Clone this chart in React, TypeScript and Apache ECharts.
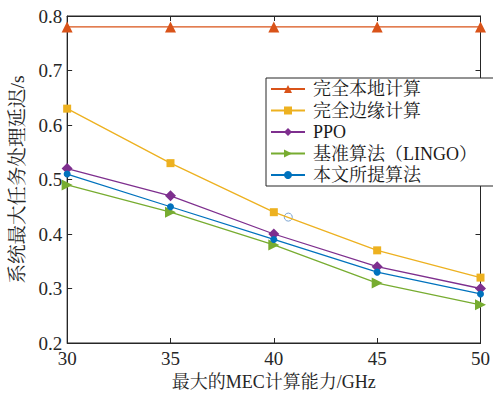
import React, { useEffect, useRef } from "react";
import * as echarts from "echarts";

const xValues = [30, 35, 40, 45, 50];
const localCompute = [0.78, 0.78, 0.78, 0.78, 0.78];
const edgeCompute = [0.63, 0.53, 0.44, 0.37, 0.32];
const ppo = [0.52, 0.47, 0.40, 0.34, 0.30];
const lingo = [0.49, 0.44, 0.38, 0.31, 0.27];
const proposed = [0.51, 0.45, 0.39, 0.33, 0.29];
const strayPoint = [[40.7, 0.431]];

const seriesNames = ["完全本地计算", "完全边缘计算", "PPO", "基准算法（LINGO）", "本文所提算法"];

const FONT = "'Liberation Serif', 'Times New Roman', 'Noto Serif CJK SC', 'Noto Sans CJK SC', serif";

export default function App() {
  const ref = useRef<HTMLDivElement>(null);
  useEffect(() => {
    if (!ref.current) return;
    const chart = echarts.init(ref.current, null, { renderer: "svg" });
    const mk = (vals: number[]) => vals.map((v, i) => [xValues[i], v]);
    const lineSeries = (name: string, vals: number[], color: string, symbol: string, size: number, rotate = 0) => ({
      name,
      type: "line",
      data: mk(vals),
      symbol,
      symbolSize: size,
      symbolRotate: rotate,
      showSymbol: true,
      lineStyle: { color, width: 1.3 },
      itemStyle: { color },
      emphasis: { disabled: true },
    });
    const axisLineStyle = { color: "#262626", width: 1 };
    chart.setOption({
      animation: false,
      backgroundColor: "#fff",
      grid: { left: 66, right: 9, top: 16, bottom: 54, show: true, borderColor: "#262626", borderWidth: 1 },
      legend: {
        data: seriesNames,
        orient: "vertical",
        left: 266,
        top: 78,
        itemWidth: 34,
        itemHeight: 10,
        itemGap: 3.5,
        padding: [2, 22, 2, 4],
        backgroundColor: "#fff",
        borderColor: "#262626",
        borderWidth: 1,
        borderRadius: 0,
        textStyle: { fontFamily: FONT, fontSize: 18, lineHeight: 18, color: "#1a1a1a", padding: [0, 0, 0, 3] },
      },
      xAxis: [
        {
          type: "value",
          min: 30,
          max: 50,
          interval: 5,
          name: "最大的MEC计算能力/GHz",
          nameLocation: "middle",
          nameGap: 30,
          nameTextStyle: { fontFamily: FONT, fontSize: 18, color: "#262626" },
          axisLine: { show: true, lineStyle: axisLineStyle },
          axisTick: { show: true, inside: true, length: 5, lineStyle: axisLineStyle },
          axisLabel: { fontFamily: FONT, fontSize: 19, color: "#262626", margin: 6 },
          splitLine: { show: false },
        },
        {
          type: "value",
          position: "top",
          min: 30,
          max: 50,
          interval: 5,
          axisLine: { show: true, lineStyle: axisLineStyle },
          axisTick: { show: true, inside: true, length: 5, lineStyle: axisLineStyle },
          axisLabel: { show: false },
          splitLine: { show: false },
        },
      ],
      yAxis: [
        {
          type: "value",
          min: 0.2,
          max: 0.8,
          interval: 0.1,
          name: "系统最大任务处理延迟/s",
          nameLocation: "middle",
          nameGap: 36,
          nameTextStyle: { fontFamily: FONT, fontSize: 19.5, color: "#262626" },
          axisLine: { show: true, lineStyle: axisLineStyle },
          axisTick: { show: true, inside: true, length: 5, lineStyle: axisLineStyle },
          axisLabel: { fontFamily: FONT, fontSize: 19, color: "#262626", margin: 5, formatter: (v: number) => v.toFixed(1) },
          splitLine: { show: false },
        },
        {
          type: "value",
          position: "right",
          min: 0.2,
          max: 0.8,
          interval: 0.1,
          axisLine: { show: true, lineStyle: axisLineStyle },
          axisTick: { show: true, inside: true, length: 5, lineStyle: axisLineStyle },
          axisLabel: { show: false },
          splitLine: { show: false },
        },
      ],
      series: [
        lineSeries(seriesNames[0], localCompute, "#D95319", "triangle", 11),
        lineSeries(seriesNames[1], edgeCompute, "#EDB120", "rect", 8),
        lineSeries(seriesNames[2], ppo, "#7E2F8E", "diamond", 11),
        lineSeries(seriesNames[3], lingo, "#77AC30", "triangle", 11, -90),
        lineSeries(seriesNames[4], proposed, "#0072BD", "circle", 7),
        {
          name: "stray",
          type: "scatter",
          data: strayPoint,
          symbol: "circle",
          symbolSize: 8,
          itemStyle: { color: "transparent", borderColor: "#5B8FC7", borderWidth: 1 },
          emphasis: { disabled: true },
        },
      ],
    });
    return () => chart.dispose();
  }, []);
  return <div ref={ref} style={{ width: 493, height: 397, position: "absolute", left: 0, top: 0 }} />;
}
